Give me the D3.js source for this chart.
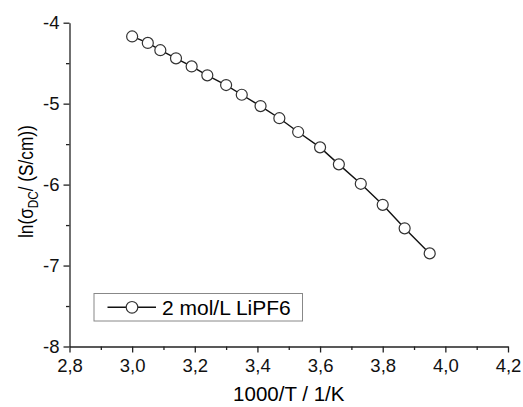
<html>
  <head>
    <script src="https://d3js.org/d3.v7.min.js"></script>
    <style>
      body { margin: 0; background: #fff; }
      svg { font-family: "Liberation Sans", Arial, sans-serif; }
      .axis path, .axis line { stroke: #222; stroke-width: 1.3; }
      .axis text { font-size: 18.5px; fill: #111; font-family: "Liberation Sans", Arial, sans-serif; }
      .line { fill: none; stroke: #111; stroke-width: 1.4; }
      .dot { fill: #fff; stroke: #333; stroke-width: 1.2; }
    </style>
  </head>
  <body>
    <div id="chart"></div>
    <script>
// data
var invT = [3.00, 3.05, 3.09, 3.14, 3.19, 3.24, 3.30, 3.35, 3.41, 3.47, 3.53, 3.60, 3.66, 3.73, 3.80, 3.87, 3.95];
var lnSigma = [-4.17, -4.25, -4.34, -4.44, -4.54, -4.65, -4.77, -4.89, -5.03, -5.18, -5.35, -5.54, -5.75, -5.99, -6.25, -6.54, -6.85];
var xTicks = [2.8, 3.0, 3.2, 3.4, 3.6, 3.8, 4.0, 4.2];
var yTicks = [-8, -7, -6, -5, -4];
var seriesName = "2 mol/L LiPF6";

var width = 523, height = 407;
var padL = 69.5, padR = 508, padT = 22.7, padB = 346.5;

var data = invT.map((v, i) => ({x: v, y: lnSigma[i]}));

var svg = d3.select("#chart").append("svg")
  .attr("width", width)
  .attr("height", height);

var x = d3.scaleLinear().domain([2.8, 4.2]).range([padL, padR]);
var y = d3.scaleLinear().domain([-8, -4]).range([padB, padT]);

var comma = d => d3.format(".1f")(d).replace(".", ",");

/* minor ticks */
svg.append("g")
  .attr("class", "axis")
  .attr("transform", `translate(0,${padB})`)
  .call(d3.axisBottom(x).tickValues(d3.range(2.9, 4.2, 0.2)).tickSize(3.5).tickFormat(""))
  .select(".domain").remove();
svg.append("g")
  .attr("class", "axis")
  .attr("transform", `translate(${padL},0)`)
  .call(d3.axisLeft(y).tickValues(d3.range(-7.5, -4, 1)).tickSize(3.5).tickFormat(""))
  .select(".domain").remove();

/* major axes */
svg.append("g")
  .attr("class", "axis")
  .attr("transform", `translate(0,${padB})`)
  .call(d3.axisBottom(x).tickValues(xTicks).tickSize(6).tickSizeOuter(0).tickPadding(6).tickFormat(comma));

svg.append("g")
  .attr("class", "axis")
  .attr("transform", `translate(${padL},0)`)
  .call(d3.axisLeft(y).tickValues(yTicks).tickSize(6).tickSizeOuter(0).tickPadding(4).tickFormat(d => d3.format("d")(d).replace("−", "-")));

/* axis titles */
svg.append("text")
  .attr("x", (padL + padR) / 2)
  .attr("y", 401)
  .attr("text-anchor", "middle")
  .style("font-size", "20.5px")
  .text("1000/T / 1/K");

// the title is squeezed along its length in the original
var yt = svg.append("text")
  .attr("transform", `translate(33,${(padT + padB) / 2 - 3}) rotate(-90) scale(0.84,1)`)
  .attr("text-anchor", "middle")
  .style("font-size", "20.5px");
yt.append("tspan").text("ln(σ");
yt.append("tspan").attr("dy", 5).style("font-size", "14px").text("DC");
yt.append("tspan").attr("dy", -5).text("/ (S/cm))");

/* series */
var line = d3.line().x(d => x(d.x)).y(d => y(d.y));
svg.append("path")
  .datum(data)
  .attr("class", "line")
  .attr("d", line);

svg.selectAll(".dot")
  .data(data).enter()
  .append("circle")
  .attr("class", "dot")
  .attr("cx", d => x(d.x))
  .attr("cy", d => y(d.y))
  .attr("r", 5.5);

/* legend */
var lg = svg.append("g").attr("transform", "translate(94,293.5)");
lg.append("rect")
  .attr("width", 208.5)
  .attr("height", 27.5)
  .attr("fill", "#fff")
  .attr("stroke", "#888")
  .attr("stroke-width", 1);
lg.append("line")
  .attr("x1", 13.5).attr("x2", 62)
  .attr("y1", 13.8).attr("y2", 13.8)
  .attr("stroke", "#111").attr("stroke-width", 1.4);
lg.append("circle")
  .attr("class", "dot")
  .attr("cx", 38).attr("cy", 13.8).attr("r", 5.8);
lg.append("text")
  .attr("x", 68)
  .attr("y", 21.3)
  .style("font-size", "21px")
  .text(seriesName);
    </script>
  </body>
</html>
